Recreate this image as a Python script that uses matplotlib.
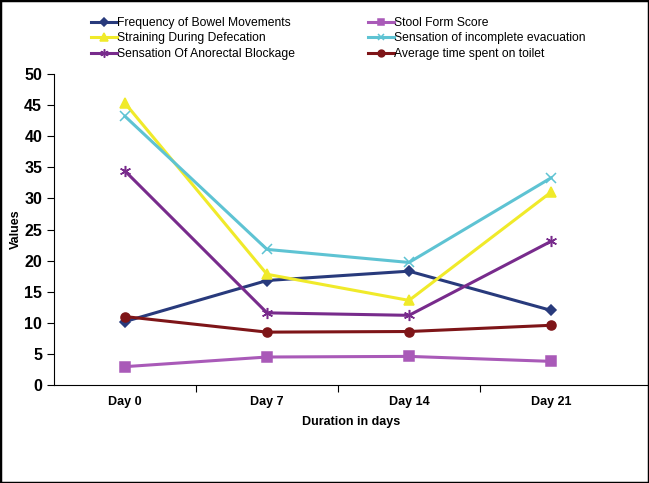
import matplotlib
matplotlib.use("Agg")
import matplotlib.pyplot as plt
from matplotlib.patches import Rectangle

days = ["Day 0", "Day 7", "Day 14", "Day 21"]
freq = [10.2, 16.8, 18.3, 12.0]
stool = [2.95, 4.5, 4.6, 3.8]
straining = [45.3, 17.8, 13.6, 31.0]
incomplete = [43.2, 21.8, 19.7, 33.3]
blockage = [34.4, 11.6, 11.2, 23.1]
toilet = [11.0, 8.5, 8.6, 9.6]

labels = ["Frequency of Bowel Movements", "Stool Form Score",
          "Straining During Defecation", "Sensation of incomplete evacuation",
          "Sensation Of Anorectal Blockage", "Average time spent on toilet"]

plt.rcParams['font.family'] = ['Liberation Sans', 'DejaVu Sans']

fig = plt.figure(figsize=(6.49, 4.83), dpi=100)
ax = fig.add_axes([54/649, 98/483, 1 - 54/649, (385-74)/483])

x = list(range(len(days)))
styles = [
    (freq, '#283A7C', 'D', 5),
    (stool, '#A95AB8', 's', 6.5),
    (straining, '#F0EA2A', '^', 7),
    (incomplete, '#5EC3D3', 'x', 6.5),
    (blockage, '#782B8C', (6, 2, 0), 8),
    (toilet, '#7E1518', 'o', 6.5),
]
handles = []
for (vals, col, mk, ms), lab in zip(styles, labels):
    h, = ax.plot(x, vals, color=col, marker=mk, markersize=ms, linewidth=2.2,
                 markeredgewidth=1.1, label=lab)
    handles.append(h)

ax.set_ylim(0, 50)
ax.set_yticks(range(0, 51, 5))
ax.set_xlim(-0.5, 3.69)
ax.set_xticks([0.5, 1.5, 2.5])
ax.set_xticklabels([])
ax.set_xticks(x, minor=True)
ax.set_xticklabels(days, minor=True, fontsize=9, fontweight='bold')
ax.tick_params(axis='x', which='minor', length=0, pad=8)
ax.tick_params(axis='x', which='major', length=5, direction='out')
ax.tick_params(axis='y', length=5, direction='out', labelsize=11.5)
for t in ax.get_yticklabels():
    t.set_fontweight('bold')
ax.spines['top'].set_visible(False)
ax.spines['right'].set_visible(False)
ax.set_ylabel("Values", fontsize=9, fontweight='bold', labelpad=2)
ax.set_xlabel("Duration in days", fontsize=9, fontweight='bold', labelpad=6)

order = [0, 2, 4, 1, 3, 5]
fig.legend([handles[i] for i in order], [labels[i] for i in order],
           ncol=2, loc='upper left', bbox_to_anchor=(86/649, 1 - 12/483),
           frameon=False, fontsize=8.7, handlelength=2.15, handletextpad=0.05,
           columnspacing=6.0, labelspacing=0.3, borderaxespad=0,
           markerscale=0.75)

fig.patches.append(Rectangle((0, 0), 1, 1, transform=fig.transFigure,
                             fill=False, edgecolor='black', linewidth=2.5))
fig.savefig("out.png", dpi=100)
